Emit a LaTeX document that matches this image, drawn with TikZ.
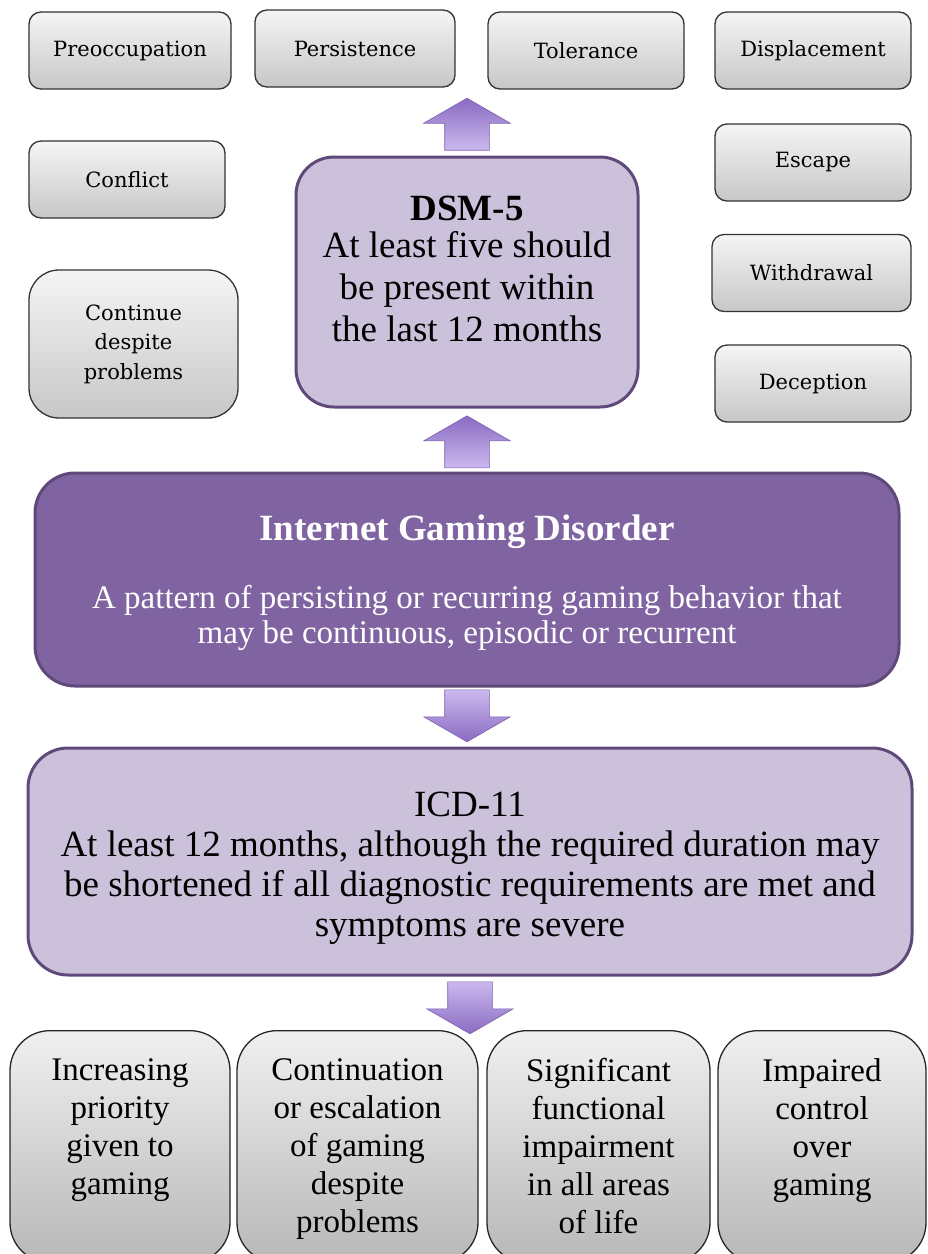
\documentclass[tikz,border=0pt]{standalone}
\usepackage{fontspec}
\setmainfont{Liberation Serif}
\newfontfamily\boxfont{DejaVu Serif}
\usetikzlibrary{positioning,shapes.arrows}

\definecolor{igdfill}{HTML}{8064A2}
\definecolor{igdline}{HTML}{5F497A}
\definecolor{lilac}{HTML}{CCC1DA}
\definecolor{arrdark}{HTML}{8A6BC2}
\definecolor{arrlight}{HTML}{CBB9EE}

\newcommand{\toptext}[2]{\parbox[t][176pt][t]{#1}{\centering #2}}

\tikzset{
	smallbox/.style={draw=black!80, line width=1.3pt, rounded corners=12pt,
		top color=black!4, bottom color=black!22, inner sep=0pt,
		minimum height=77pt, align=center,
		font=\boxfont\fontsize{21}{29.5}\selectfont},
	bigbox/.style={draw=igdline, line width=3pt, rounded corners=38pt,
		fill=lilac, align=center, inner sep=0pt},
	lowbox/.style={draw=black!85, line width=1.3pt, rounded corners=40pt,
		top color=black!6, bottom color=black!28, inner sep=0pt,
		anchor=north, minimum height=232pt,
		font=\fontsize{33}{38}\selectfont},
	blockarrow/.style={single arrow, draw=arrdark!90!black, line width=0.6pt,
		minimum height=52pt, minimum width=86pt, inner xsep=22pt, inner ysep=0pt,
		single arrow head extend=21pt, single arrow tip angle=120},
	uparrow/.style={blockarrow, shape border rotate=90,
		top color=arrdark, bottom color=arrlight},
	downarrow/.style={blockarrow, shape border rotate=270,
		top color=arrlight, bottom color=arrdark}
}

\begin{document}
\begin{tikzpicture}[x=1pt, y=-1pt]
	\useasboundingbox (0,0) rectangle (928,1254);

	% Критерии DSM-5
	\foreach \n/\x/\y/\w/\t in {pre/130/50.5/202/Preoccupation, per/355/48.5/200/Persistence,
			tol/586/50.5/196/Tolerance, dis/813/50.5/196/Displacement,
			con/127/179.5/196/Conflict, esc/813/162.5/196/Escape,
			wit/811.5/273/199/Withdrawal, dec/813/383.5/196/Deception}
		\node[smallbox, minimum width=\w pt] (\n) at (\x,\y) {\t};
	\node[smallbox, minimum width=209pt, minimum height=148pt, rounded corners=30pt]
		(cdp) at (133.5,344) {Continue\\despite\\problems};

	% Основные блоки
	\node[bigbox, minimum width=342pt, minimum height=250pt,
		font=\fontsize{37}{42}\selectfont] (dsm) at (467,282)
		{\textbf{DSM-5}\\[-5pt] At least five should\\ be present within\\ the last 12 months\\[-16pt]\mbox{}};
	\node[bigbox, fill=igdfill, text=white, rounded corners=40pt,
		minimum width=864pt, minimum height=213pt,
		font=\fontsize{33}{35}\selectfont] (igd) at (467,579.5)
		{\mbox{}\\[-2pt]\textbf{\fontsize{37}{35}\selectfont Internet Gaming Disorder}\\[33pt]
		A pattern of persisting or recurring gaming behavior that\\
		may be continuous, episodic or recurrent};
	\node[bigbox, rounded corners=40pt, minimum width=884pt, minimum height=227pt,
		font=\fontsize{37}{40}\selectfont] (icd) at (470,861.5)
		{\mbox{}\\[-3pt]ICD-11\\
		At least 12 months, although the required duration may\\
		be shortened if all diagnostic requirements are met and\\
		symptoms are severe};

	% Стрелки
	\node[uparrow, above=5pt of dsm] (a1) {};
	\node[uparrow, below=7pt of dsm] (a2) {};
	\node[downarrow, below=2pt of igd] (a3) {};
	\node[downarrow, below=5pt of icd] (a4) {};

	% Критерии ICD-11
	\foreach \n/\x/\w/\t in {b1/120/220/{Increasing\\priority\\given to\\gaming},
			b2/357.5/241/{Continuation\\or escalation\\of gaming\\despite\\problems},
			b3/598.5/223/{Significant\\functional\\impairment\\in all areas\\of life},
			b4/822/208/{Impaired\\control\\over\\gaming}}
		\node[lowbox, minimum width=\w pt] (\n) at (\x,1030) {\toptext{\w pt}{\t}};
\end{tikzpicture}
\end{document}
